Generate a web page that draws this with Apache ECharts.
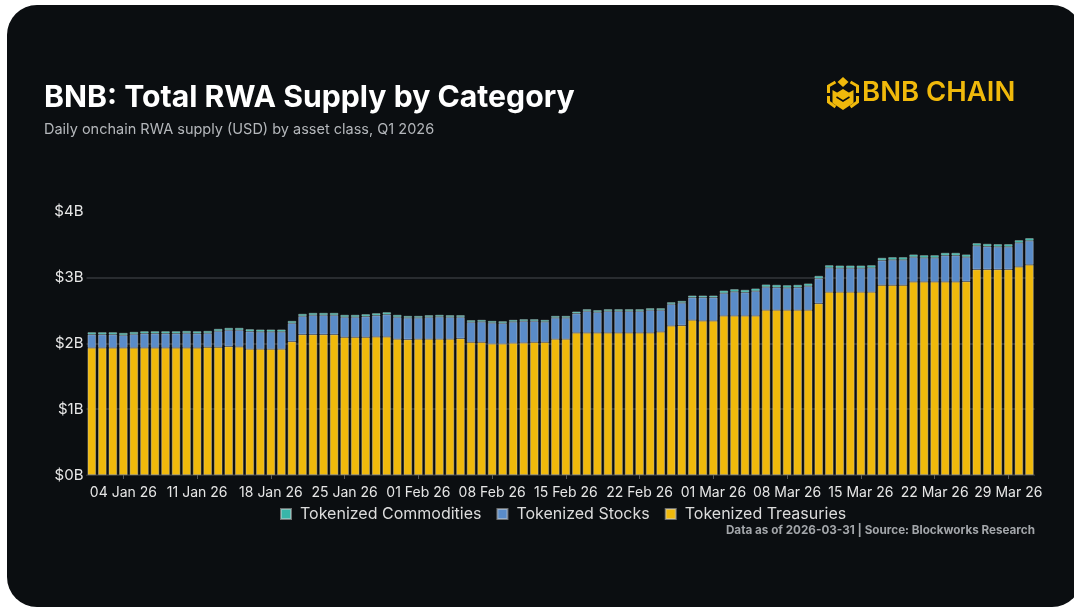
<!DOCTYPE html>
<html>
<head>
<meta charset="utf-8">
<script src="https://cdn.jsdelivr.net/npm/echarts@6/dist/echarts.min.js"></script>
<style>
  html, body { margin: 0; padding: 0; background: #ffffff; width: 1074px; height: 607px; overflow: hidden; }
  #card { position: absolute; left: 7px; top: 5px; width: 1075px; height: 602px; border-radius: 30px; background: #0b0e11; }
  #chart { position: absolute; left: 0; top: 0; width: 1074px; height: 607px; }
</style>
</head>
<body>
<div id="card"></div>
<div id="chart"></div>
<script>
// ---- Data (USD billions) ----
const categories = [
  "01 Jan 26","02 Jan 26","03 Jan 26","04 Jan 26","05 Jan 26","06 Jan 26","07 Jan 26","08 Jan 26","09 Jan 26","10 Jan 26",
  "11 Jan 26","12 Jan 26","13 Jan 26","14 Jan 26","15 Jan 26","16 Jan 26","17 Jan 26","18 Jan 26","19 Jan 26","20 Jan 26",
  "21 Jan 26","22 Jan 26","23 Jan 26","24 Jan 26","25 Jan 26","26 Jan 26","27 Jan 26","28 Jan 26","29 Jan 26","30 Jan 26",
  "31 Jan 26","01 Feb 26","02 Feb 26","03 Feb 26","04 Feb 26","05 Feb 26","06 Feb 26","07 Feb 26","08 Feb 26","09 Feb 26",
  "10 Feb 26","11 Feb 26","12 Feb 26","13 Feb 26","14 Feb 26","15 Feb 26","16 Feb 26","17 Feb 26","18 Feb 26","19 Feb 26",
  "20 Feb 26","21 Feb 26","22 Feb 26","23 Feb 26","24 Feb 26","25 Feb 26","26 Feb 26","27 Feb 26","28 Feb 26","01 Mar 26",
  "02 Mar 26","03 Mar 26","04 Mar 26","05 Mar 26","06 Mar 26","07 Mar 26","08 Mar 26","09 Mar 26","10 Mar 26","11 Mar 26",
  "12 Mar 26","13 Mar 26","14 Mar 26","15 Mar 26","16 Mar 26","17 Mar 26","18 Mar 26","19 Mar 26","20 Mar 26","21 Mar 26",
  "22 Mar 26","23 Mar 26","24 Mar 26","25 Mar 26","26 Mar 26","27 Mar 26","28 Mar 26","29 Mar 26","30 Mar 26","31 Mar 26"
];

const treasuries = [
  1.931,1.931,1.931,1.931,1.931,1.931,1.931,1.931,1.931,1.931,
  1.931,1.941,1.941,1.951,1.946,1.911,1.911,1.911,1.911,2.027,
  2.134,2.134,2.134,2.134,2.093,2.093,2.093,2.098,2.098,2.063,
  2.058,2.063,2.063,2.063,2.063,2.073,2.017,2.017,1.992,1.992,
  2.002,2.007,2.017,2.017,2.063,2.063,2.159,2.159,2.159,2.159,
  2.159,2.159,2.159,2.159,2.174,2.265,2.271,2.352,2.341,2.341,
  2.417,2.417,2.417,2.417,2.504,2.504,2.504,2.504,2.504,2.605,
  2.777,2.777,2.777,2.777,2.777,2.883,2.883,2.883,2.934,2.934,
  2.934,2.934,2.934,2.939,3.122,3.122,3.122,3.122,3.162,3.193
];

const stocks = [
  0.203,0.203,0.203,0.193,0.208,0.218,0.218,0.218,0.218,0.223,
  0.218,0.213,0.244,0.249,0.254,0.269,0.264,0.264,0.264,0.279,
  0.279,0.294,0.294,0.294,0.305,0.305,0.315,0.325,0.340,0.335,
  0.329,0.324,0.335,0.340,0.335,0.325,0.305,0.310,0.319,0.314,
  0.325,0.330,0.320,0.310,0.324,0.324,0.294,0.330,0.315,0.330,
  0.330,0.330,0.330,0.345,0.330,0.330,0.344,0.344,0.355,0.355,
  0.345,0.366,0.356,0.376,0.350,0.345,0.339,0.345,0.365,0.380,
  0.370,0.365,0.365,0.365,0.370,0.376,0.386,0.386,0.376,0.365,
  0.365,0.401,0.401,0.371,0.360,0.350,0.345,0.345,0.365,0.365
];

const commodities = [
  0.035,0.035,0.035,0.035,0.035,0.035,0.035,0.035,0.035,0.035,
  0.035,0.035,0.035,0.035,0.035,0.035,0.035,0.035,0.035,0.035,
  0.035,0.035,0.035,0.035,0.035,0.035,0.035,0.035,0.035,0.035,
  0.030,0.030,0.030,0.030,0.030,0.030,0.030,0.030,0.030,0.030,
  0.030,0.030,0.030,0.030,0.030,0.030,0.030,0.030,0.030,0.030,
  0.030,0.030,0.030,0.030,0.030,0.030,0.030,0.030,0.030,0.030,
  0.040,0.040,0.040,0.040,0.040,0.040,0.040,0.040,0.040,0.040,
  0.040,0.040,0.040,0.040,0.040,0.040,0.040,0.040,0.040,0.040,
  0.040,0.040,0.040,0.040,0.040,0.040,0.040,0.040,0.040,0.040
];

const yTicks = [0, 1, 2, 3, 4];
const seriesNames = ["Tokenized Treasuries", "Tokenized Stocks", "Tokenized Commodities"];
const legendOrder = ["Tokenized Commodities", "Tokenized Stocks", "Tokenized Treasuries"];

const COLORS = { treasuries: "#F0B90B", stocks: "#5A8CC9", commodities: "#38B6A9" };
const FONT = "Inter, 'Noto Sans', sans-serif";

const chart = echarts.init(document.getElementById("chart"), null, { renderer: "canvas" });

const showEvery7 = (idx) => (idx - 3) % 7 === 0 && idx >= 3;

const barStyle = (c) => ({ color: c, borderColor: "rgba(210,210,210,0.5)", borderWidth: 0.8 });

chart.setOption({
  backgroundColor: "transparent",
  animation: false,
  textStyle: { fontFamily: FONT },
  grid: { left: 86.5, right: 39.3, top: 211.7, bottom: 132, containLabel: false },
  legend: {
    data: legendOrder,
    left: 275,
    top: 501,
    itemWidth: 10,
    itemHeight: 10,
    itemGap: 15,
    icon: "rect",
    textStyle: { color: "#dcdcdc", fontSize: 16, fontFamily: FONT, padding: [0, 0, 0, 4] }
  },
  xAxis: {
    type: "category",
    data: categories,
    axisLine: { show: true, lineStyle: { color: "#2c2f33", width: 1 } },
    axisTick: { show: true, alignWithLabel: true, interval: showEvery7, length: 4, lineStyle: { color: "#55585c" } },
    axisLabel: { interval: showEvery7, color: "#e6e6e6", fontSize: 14, margin: 11, fontFamily: FONT }
  },
  yAxis: {
    type: "value",
    min: yTicks[0],
    max: yTicks[yTicks.length - 1],
    interval: 1,
    axisLine: { show: false },
    axisTick: { show: false },
    axisLabel: { color: "#e8e8e8", fontSize: 15, margin: 3, fontFamily: FONT, formatter: (v) => "$" + v + "B" },
    splitLine: { show: true, showMaxLine: false, lineStyle: { color: "#34373b", width: 1.5 } }
  },
  series: [
    { name: seriesNames[0], type: "bar", stack: "rwa", data: treasuries, barCategoryGap: "20%", itemStyle: barStyle(COLORS.treasuries) },
    { name: seriesNames[1], type: "bar", stack: "rwa", data: stocks, barCategoryGap: "20%", itemStyle: barStyle(COLORS.stocks) },
    { name: seriesNames[2], type: "bar", stack: "rwa", data: commodities, barCategoryGap: "20%", itemStyle: barStyle(COLORS.commodities) }
  ],
  graphic: [
    { type: "text", left: 44, top: 83, style: { text: "BNB: Total RWA Supply by Category", fill: "#ffffff", font: "bold 30.2px " + FONT } },
    { type: "text", left: 44, top: 122, style: { text: "Daily onchain RWA supply (USD) by asset class, Q1 2026", fill: "#b4b7bb", font: "14.5px " + FONT } },
    { type: "text", left: 862, top: 79, style: { text: "BNB CHAIN", fill: "#F0B90B", font: "600 27.5px " + FONT } },
    {
      type: "group", left: 826, top: 77,
      children: [
        { type: "polygon", shape: { points: [[15.5,0],[21,5],[15.5,10],[10,5]] }, style: { fill: "#F0B90B" } },
        { type: "polyline", shape: { points: [[8,5],[1,9],[1,16]] }, style: { stroke: "#F0B90B", lineWidth: 3, fill: null } },
        { type: "polyline", shape: { points: [[23,5],[30,9],[30,16]] }, style: { stroke: "#F0B90B", lineWidth: 3, fill: null } },
        { type: "polyline", shape: { points: [[1,19],[1,25],[8,30]] }, style: { stroke: "#F0B90B", lineWidth: 3, fill: null } },
        { type: "polyline", shape: { points: [[30,19],[30,25],[23,30]] }, style: { stroke: "#F0B90B", lineWidth: 3, fill: null } },
        { type: "polygon", shape: { points: [[5,13],[15.5,19],[15.5,33],[5,26]] }, style: { fill: "#F0B90B" } },
        { type: "polygon", shape: { points: [[26,13],[15.5,19],[15.5,33],[26,26]] }, style: { fill: "#F0B90B" } },
        { type: "polygon", shape: { points: [[15.5,12],[22,16],[15.5,20],[9,16]] }, style: { fill: "#F0B90B" } },
        { type: "polyline", shape: { points: [[9,20],[15.5,24],[22,20]] }, style: { stroke: "#0b0e11", lineWidth: 1.5, fill: null } }
      ]
    },
    { type: "text", right: 39, top: 524, style: { text: "Data as of 2026-03-31 | Source: Blockworks Research", fill: "#a3a6aa", font: "bold 11.7px " + FONT, align: "right" } }
  ]
});
</script>
</body>
</html>
